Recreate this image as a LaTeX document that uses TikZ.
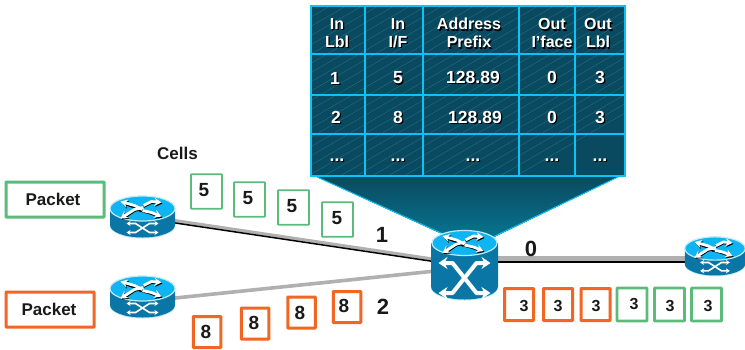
\documentclass[tikz,border=0pt]{standalone}
\usepackage{fontspec}
\setmainfont{Liberation Sans}
\usetikzlibrary{arrows.meta,shadings}
\definecolor{cyanline}{HTML}{0BC4F5}
\definecolor{tabdark}{HTML}{0A4A60}
\definecolor{tabmid}{HTML}{077590}
\definecolor{hatchc}{HTML}{3E97AE}
\definecolor{rtop}{HTML}{0FB4F2}
\definecolor{rrim}{HTML}{BDEBFA}
\definecolor{rbody}{HTML}{0A76A6}
\definecolor{pgreen}{HTML}{5BBB7B}
\definecolor{porange}{HTML}{F26522}
\definecolor{linkgray}{HTML}{B0B0B0}
\newcommand{\dg}{\fontsize{17.5}{18}\selectfont}
\tikzset{
  x=1pt,y=-1pt,
  greenbox/.style={draw=pgreen,line width=1.6pt,rounded corners=0.6pt,fill=white},
  orangebox/.style={draw=porange,line width=3pt,rounded corners=0.6pt,fill=white},
  lab/.style={inner sep=0pt,font=\bfseries,text=black!90},
  dig/.style={lab,font=\fontsize{19}{19}\selectfont\bfseries},
  smalldig/.style={lab,font=\fontsize{16}{16}\selectfont\bfseries},
  biglab/.style={lab,font=\fontsize{22}{22}\selectfont\bfseries},
  pk/.style={lab,font=\fontsize{17}{17}\selectfont\bfseries},
  cellwhite/.style={inner sep=0pt,align=center,text=white,font=\fontsize{16}{18}\selectfont\bfseries},
  cellshadow/.style={cellwhite,text=black},
  anchorbox/.style={inner sep=0pt,minimum width=65pt,minimum height=41pt},
  swoop/.style={line width=2.8pt,white,-{Stealth[length=7pt,width=8pt]}},
  swoopk/.style={line width=2.8pt,black,-{Stealth[length=7pt,width=8pt]}},
  xarrow/.style={line width=1.6pt,white,{Stealth[length=4pt,width=5pt]}-{Stealth[length=4pt,width=5pt]}},
  bigx/.style={line width=4pt,white,line join=round,{Stealth[length=9pt,width=12pt]}-{Stealth[length=9pt,width=12pt]}},
  wire/.style={linkgray},
  wirek/.style={black}
}
% top face of router or switch: centred on its top ellipse
\newcommand{\topface}{%
  \fill[rtop,draw=rrim,line width=1.2pt] (0,0) ellipse [x radius=32.5,y radius=12.5];
  \draw[swoopk] (-1,2.5) -- (-8,-1.5) -- (-21,-6);
  \draw[swoopk] (1,0) -- (-8,2) -- (-21,11);
  \draw[swoopk] (1,-2) -- (9,-6) -- (20,-5);
  \draw[swoopk] (-1,2) -- (9,5) -- (20,9);
  \draw[swoop] (0,1) -- (-8,-3) -- (-22,-7);
  \draw[swoop] (1,-1) -- (-8,1) -- (-22,10);
  \draw[swoop] (1,-3) -- (9,-7) -- (19,-6);
  \draw[swoop] (0,2) -- (9,4) -- (19,8);
}
\newcommand{\routerart}[3]{%
  \begin{scope}[shift={(#1,#2)},scale=#3]
    \fill[rrim] (-32.5,17.5) arc [start angle=180,end angle=0,x radius=32.5,y radius=12.5] -- cycle;
    \fill[rbody] (-32.5,0) -- (-32.5,16.5) arc [start angle=180,end angle=0,x radius=32.5,y radius=12.5] -- (32.5,0) -- cycle;
    \topface
    \draw[xarrow] (-16,15) -- (-7,15) -- (7,24) -- (16,24);
    \draw[xarrow] (-16,24) -- (-7,24) -- (7,15) -- (16,15);
  \end{scope}}
\newcommand{\tcell}[4]{%
  \node[cellshadow] at (#2+1.3,#3+1.5) {#4};
  \node[cellwhite] (#1) at (#2,#3) {#4};}
\begin{document}
\begin{tikzpicture}
\useasboundingbox (0,0) rectangle (745,349);
\fill[white] (0,0) rectangle (745,349);

% anchors for the routers and the switch
\node[anchorbox] (r1) at (142.5,217) {};
\node[anchorbox] (r2) at (142.5,297) {};
\node[anchorbox,minimum width=60pt] (r3) at (715,257) {};
\node[inner sep=0pt,minimum width=67pt,minimum height=71pt] (sw) at (464.5,265) {};

% table funnel
\fill[top color=tabdark,bottom color=tabmid] (317,177) -- (618,177) -- (492,238) -- (440,233) -- cycle;
\draw[cyanline,line width=1pt] (317,177) -- (441,233);
\draw[cyanline,line width=1pt] (618,177) -- (493,237);

% table
\shade[shading=axis,top color=tabdark,middle color=tabmid,bottom color=tabdark,shading angle=135]
  (311,6) rectangle (625,176);
\begin{scope}
  \clip (311,6) rectangle (625,176);
  \foreach \k in {0,...,31} {
    \draw[hatchc,line width=0.3pt,opacity=.55] (20+\k*16,176) -- ++(294,-170);
  }
\end{scope}
\draw[cyanline,line width=1.6pt] (311,6) rectangle (625,176);
\foreach \vx in {365,423,519,575} \draw[cyanline,line width=1.5pt] (\vx,6) -- (\vx,176);
\foreach \hy in {54,95,134} \draw[cyanline,line width=1.5pt] (311,\hy) -- (625,\hy);

\tcell{h1}{337}{33}{In\\Lbl}
\tcell{h2}{398}{33}{In\\I/F}
\tcell{h3}{469}{33}{Address\\Prefix}
\tcell{h4}{552}{33}{Out\\I’face}
\tcell{h5}{598}{33}{Out\\Lbl}
\tcell{a1}{335}{78}{\dg 1}
\tcell{a2}{398}{78}{\dg 5}
\tcell{a3}{473}{77}{\dg 128.89}
\tcell{a4}{552}{77}{\dg 0}
\tcell{a5}{600}{77}{\dg 3}
\tcell{b1}{336}{117}{\dg 2}
\tcell{b2}{398}{117}{\dg 8}
\tcell{b3}{475}{117}{\dg 128.89}
\tcell{b4}{552}{117}{\dg 0}
\tcell{b5}{600}{117}{\dg 3}
\tcell{c1}{337}{160}{\dg ...}
\tcell{c2}{398}{160}{\dg ...}
\tcell{c3}{473}{160}{\dg ...}
\tcell{c4}{552}{160}{\dg ...}
\tcell{c5}{600}{160}{\dg ...}

% links
\draw[wire,line width=3.2pt] ([yshift=1.2pt]r1.center) -- ([yshift=1.2pt]sw.center);
\draw[wirek,line width=1.5pt] ([yshift=-1.1pt]r1.center) -- ([yshift=-1.1pt]sw.center);
\draw[wire,line width=3.6pt] ([yshift=-4.4pt]r2.center) -- ([yshift=-3pt]sw.center);
\path (sw.center) ++(0,-6.5) coordinate (s0g) ++(0,3.3) coordinate (s0k);
\draw[wire,line width=4.6pt] (s0g) -- (s0g -| r3.center);
\draw[wirek,line width=2pt] (s0k) -- (s0k -| r3.center);

% routers
\routerart{142.5}{208.5}{1}
\routerart{142.5}{288.5}{1}
\routerart{715}{248.5}{0.93}

% switch
\begin{scope}[shift={(464.5,243)}]
  \fill[rrim] (-33.5,44.5) arc [start angle=180,end angle=0,x radius=33.5,y radius=13] -- cycle;
  \fill[rbody] (-33.5,0) -- (-33.5,43.5) arc [start angle=180,end angle=0,x radius=33.5,y radius=13] -- (33.5,0) -- cycle;
  \topface
  \draw[bigx] (-26,20) -- (-12,20) -- (12,50) -- (26,50);
  \draw[bigx] (-26,50) -- (-12,50) -- (12,20) -- (26,20);
\end{scope}

% packets
\node[greenbox,line width=3pt,minimum width=98pt,minimum height=35pt,inner sep=0pt] (p1) at (55,199.5) {};
\node[pk] (p1t) at (53,199.5) {Packet};
\node[orangebox,minimum width=88pt,minimum height=35pt,inner sep=0pt] (p2) at (50,309.5) {};
\node[pk] (p2t) at (49,309.5) {Packet};

% green cells, labelled 5
\foreach \n/\bx/\by/\tx/\ty in {1/206.5/191.5/204/190, 2/249.5/199.5/248/198, 3/293.5/207.5/292/206, 4/337.5/219.5/337/218} {
  \node[greenbox,minimum width=31pt,minimum height=34.5pt,inner sep=0pt] (g\n) at (\bx,\by) {};
  \node[dig] (gt\n) at (\tx,\ty) {5};
}
% orange cells, labelled 8
\foreach \n/\bx/\by/\tx/\ty in {1/207/332/206/332, 2/255/323.5/254/323, 3/301.5/312.5/300/313, 4/347/307/344/306} {
  \node[orangebox,minimum width=27.5pt,minimum height=31pt,inner sep=0pt] (o\n) at (\bx,\by) {};
  \node[dig] (ot\n) at (\tx,\ty) {8};
}
% cells on the outgoing link, labelled 3
\foreach \n/\bx/\tx/\ty in {1/519/524/306, 2/558/558/306, 3/595.5/596/306} {
  \node[orangebox,minimum width=29pt,minimum height=32pt,inner sep=0pt] (q\n) at (\bx,304.5) {};
  \node[smalldig] (qt\n) at (\tx,\ty) {3};
}
\foreach \n/\bx/\tx/\ty in {4/632/634/304, 5/669.5/670/306, 6/706.5/708/306} {
  \node[greenbox,line width=2.8pt,minimum width=30pt,minimum height=33pt,inner sep=0pt] (q\n) at (\bx,304.5) {};
  \node[smalldig] (qt\n) at (\tx,\ty) {3};
}

% labels
\node[lab,font=\fontsize{17}{17}\selectfont\bfseries] (cellslab) at (177.5,153) {Cells};
\node[biglab] (l1) at (382,235) {1};
\node[biglab] (l2) at (383,307) {2};
\node[biglab] (l0) at (531,249) {0};
\end{tikzpicture}
\end{document}
